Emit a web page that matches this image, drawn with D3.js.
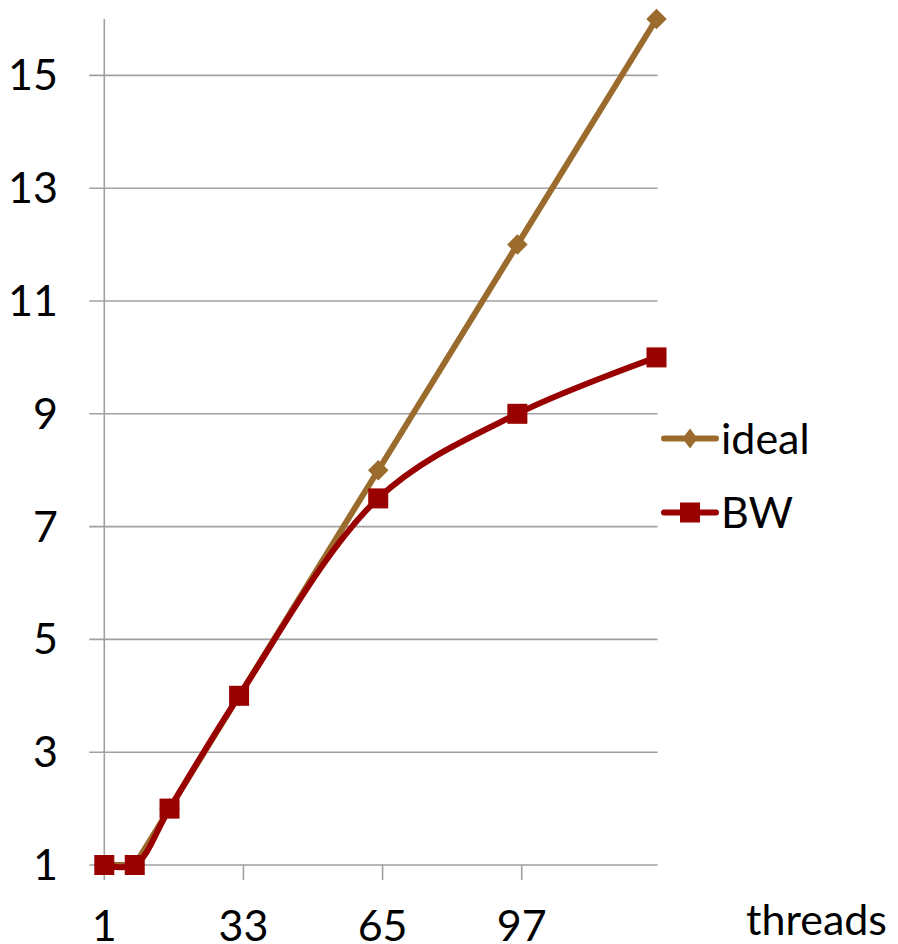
<!DOCTYPE html>
<html>
<head>
<meta charset="utf-8">
<script src="https://cdn.jsdelivr.net/npm/d3@7"></script>
<style>
  html, body { margin: 0; padding: 0; background: #ffffff; }
  svg { display: block; font-family: Lato, "Open Sans", sans-serif; }
</style>
</head>
<body>
<svg id="chart" width="898" height="944"></svg>
<script>
// Thread counts and speed-up per series
const threads = [1, 8, 16, 32, 64, 96, 128];
const idealSpeedup = [1, 1, 2, 4, 8, 12, 16];
const bwSpeedup = [1, 1, 2, 4, 7.5, 9, 10];
const yTickValues = [1, 3, 5, 7, 9, 11, 13, 15];
const xTickValues = [1, 33, 65, 97];
const seriesNames = ["ideal", "BW"];

const svg = d3.select("#chart");
const fontSize = 43;
const gridColor = "#a0a0a0";
const colors = { ideal: "#9a6b2c", BW: "#990000" };
const lineWidth = 6;

const x = d3.scaleLinear().domain([1, 128]).range([104.3, 656.5]);
const y = d3.scaleLinear().domain([1, 16]).range([865, 19]);

// Horizontal gridlines (extend left past the axis as tick marks)
svg.append("g").selectAll("line").data(yTickValues).join("line")
  .attr("x1", x(1) - 15).attr("x2", x(128) + 1)
  .attr("y1", d => y(d)).attr("y2", d => y(d))
  .attr("stroke", gridColor).attr("stroke-width", 1.6);

// Vertical axis line, extending below the baseline as the first x tick
svg.append("line")
  .attr("x1", x(1)).attr("x2", x(1))
  .attr("y1", y(16)).attr("y2", y(1) + 15)
  .attr("stroke", gridColor).attr("stroke-width", 1.6);

// X tick marks
svg.append("g").selectAll("line").data(xTickValues.slice(1)).join("line")
  .attr("x1", d => x(d)).attr("x2", d => x(d))
  .attr("y1", y(1)).attr("y2", y(1) + 15)
  .attr("stroke", gridColor).attr("stroke-width", 1.6);

// Y tick labels
svg.append("g").selectAll("text").data(yTickValues).join("text")
  .attr("x", 58).attr("y", d => y(d))
  .attr("dy", "0.35em")
  .attr("text-anchor", "end")
  .attr("font-size", fontSize).attr("fill", "#000")
  .text(d => d);

// X tick labels
svg.append("g").selectAll("text").data(xTickValues).join("text")
  .attr("x", d => x(d)).attr("y", 941)
  .attr("text-anchor", "middle")
  .attr("font-size", fontSize).attr("fill", "#000")
  .text(d => d);

// Axis title
svg.append("text")
  .attr("x", 887).attr("y", 935)
  .attr("text-anchor", "end")
  .attr("font-size", fontSize).attr("fill", "#000")
  .text("threads");

const idealData = threads.map((t, i) => ({ t, v: idealSpeedup[i] }));
const bwData = threads.map((t, i) => ({ t, v: bwSpeedup[i] }));

// ideal series: straight segments with diamond markers
svg.append("path").datum(idealData)
  .attr("fill", "none").attr("stroke", colors.ideal)
  .attr("stroke-width", lineWidth).attr("stroke-linejoin", "round")
  .attr("d", d3.line().x(d => x(d.t)).y(d => y(d.v)));

const diamond = d3.symbol().type(d3.symbolSquare).size(210);
svg.append("g").selectAll("path").data(idealData).join("path")
  .attr("transform", d => `translate(${x(d.t)},${y(d.v)}) rotate(45)`)
  .attr("d", diamond)
  .attr("fill", colors.ideal);

// BW series: smoothed line with square markers
svg.append("path").datum(bwData)
  .attr("fill", "none").attr("stroke", colors.BW)
  .attr("stroke-width", lineWidth).attr("stroke-linejoin", "round")
  .attr("d", d3.line().x(d => x(d.t)).y(d => y(d.v)).curve(d3.curveCatmullRom.alpha(0.5)));

svg.append("g").selectAll("rect").data(bwData).join("rect")
  .attr("x", d => x(d.t) - 10).attr("y", d => y(d.v) - 10)
  .attr("width", 20).attr("height", 20)
  .attr("fill", colors.BW);

// Legend
const legendRows = [
  { name: seriesNames[0], cy: 438.5 },
  { name: seriesNames[1], cy: 512.5 }
];
const legend = svg.append("g").selectAll("g").data(legendRows).join("g")
  .attr("transform", d => `translate(0,${d.cy})`);
legend.append("line")
  .attr("x1", 664).attr("x2", 716).attr("y1", 0).attr("y2", 0)
  .attr("stroke", d => colors[d.name]).attr("stroke-width", lineWidth)
  .attr("stroke-linecap", "round");
legend.filter(d => d.name === "ideal").append("path")
  .attr("transform", "translate(690,0) scale(0.75,1) rotate(45)")
  .attr("d", d3.symbol().type(d3.symbolSquare).size(200))
  .attr("fill", colors.ideal);
legend.filter(d => d.name === "BW").append("rect")
  .attr("x", 680).attr("y", -10).attr("width", 20).attr("height", 20)
  .attr("fill", colors.BW);
legend.append("text")
  .attr("x", 721).attr("y", 0).attr("dy", "0.35em")
  .attr("font-size", fontSize).attr("fill", "#000")
  .text(d => d.name);
</script>
</body>
</html>
